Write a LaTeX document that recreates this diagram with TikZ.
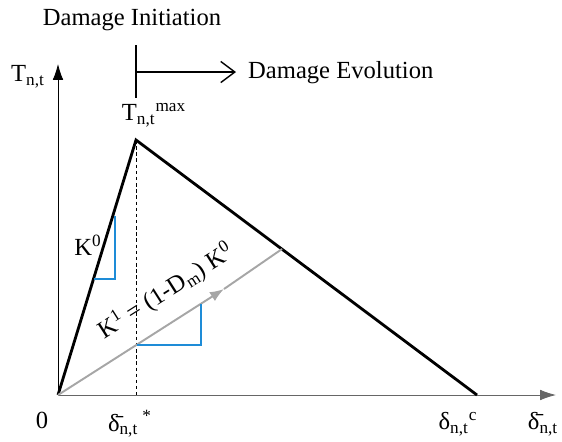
\documentclass[tikz,border=0pt]{standalone}
\usepackage{fontspec}
\setmainfont{Liberation Serif}
\usepackage{xcolor}
\usetikzlibrary{arrows.meta, positioning, calc}
\definecolor{slopeblue}{RGB}{30,140,215}

\begin{document}
\begin{tikzpicture}[x=0.02cm, y=-0.02cm, font=\fontsize{14}{16}\selectfont]
\useasboundingbox (0,0) rectangle (562,441);
% key points of the law
\coordinate (origin) at (58,395);
\coordinate (peak) at (136,140);
\coordinate (crit) at (477,395);
\coordinate (ytip) at (58,64);
\coordinate (xtip) at (556,395);
\coordinate (unload) at (282,249);
\coordinate (mid) at (224,289);

% axes
\draw[line width=0.5pt, -{Latex[length=9pt, width=6pt]}] (origin) -- (ytip);
\draw[line width=0.5pt, gray!80!black, -{Latex[length=9pt, width=6pt]}] (origin) -- (xtip);

% damage initiation / evolution marker
\coordinate (itop) at (136,45);
\coordinate (ibot) at (136,98);
\coordinate (ievo) at (136,72);
\draw[line width=0.8pt] (itop) -- (ibot);
\draw[line width=0.8pt, -{Straight Barb[length=8pt, width=12pt]}] (ievo) -- (236,72);
\node (init) at (132,20) {Damage Initiation};
\node[anchor=west] (evol) at (242,73) {Damage Evolution};

% peak marker
\coordinate (pbot) at (136,395);
\draw[line width=0.5pt, dash pattern=on 2pt off 1.5pt] (peak) -- (pbot);

% traction-separation triangle
\draw[line width=1.6pt, line join=miter] (origin) -- (peak) -- (crit);

% reloading stiffness
\draw[line width=1.1pt, gray!70, -{Latex[length=8pt, width=6pt]}] (origin) -- (mid);
\draw[line width=1.1pt, gray!70] (mid) -- (unload);

% slope triangles
\draw[slopeblue, line width=0.8pt] (93.5,279) -- (115,279) -- (115,216);
\draw[slopeblue, line width=0.8pt] (137,345) -- (201,345) -- (201,304);

% labels
\node (tlab) at (28,77) {T\textsubscript{n,t}};
\node (tmax) at (154,115) {T\textsubscript{n,t}\textsuperscript{max}};
\node (kzero) at (88,245) {K\textsuperscript{0}};
\node[rotate=32.5] (kone) at (166,291) {K\textsuperscript{1} = (1-D\textsubscript{m}) K\textsuperscript{0}};
\node (zero) at (42,420) {0};
\node (dstar) at (130,424) {\={δ}\textsubscript{n,t}\textsuperscript{ *}};
\node (dcrit) at (458,424) {δ\textsubscript{n,t}\textsuperscript{c}};
\node (dlab) at (543,424) {\={δ}\textsubscript{n,t}};
\end{tikzpicture}
\end{document}
